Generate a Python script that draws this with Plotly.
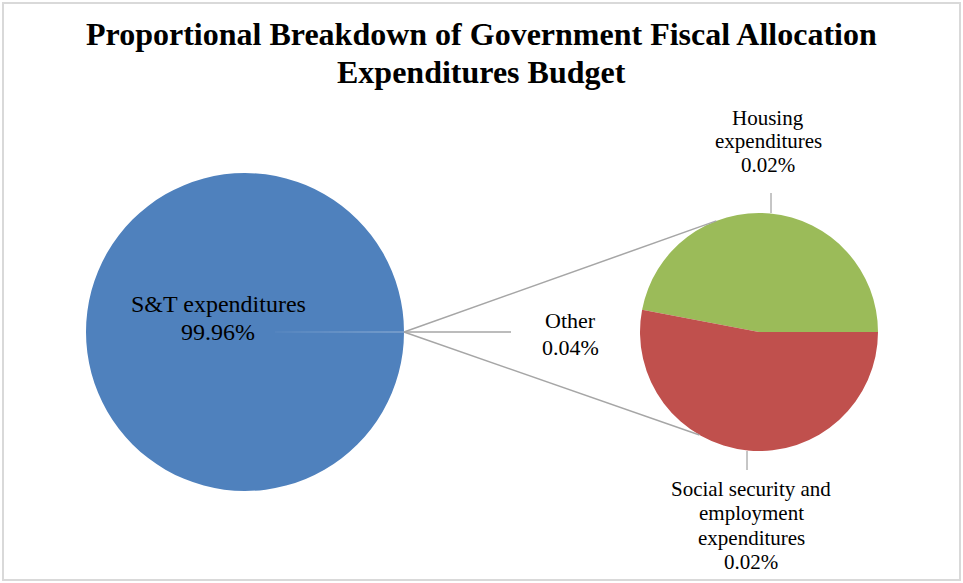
import math
import plotly.graph_objects as go

# ---------------- data ----------------
main_labels = ["Other", "S&T expenditures"]
main_values = [0.04, 99.96]          # percent of total budget
sub_labels = ["Housing expenditures", "Social security and employment expenditures"]
sub_values = [0.0188, 0.0212]        # split of "Other" (percent of total)
title_lines = ["Proportional Breakdown of Government Fiscal Allocation", "Expenditures Budget"]

main_colors = ["#8EA9CF", "#4F81BD"]
sub_colors = ["#9BBB59", "#C0504D"]

# ---------------- layout geometry (pixels) ----------------
W, H = 963, 583
C1, R1 = (245, 332), 159     # big pie centre / radius
C2, R2 = (759, 332), 119     # small pie centre / radius


def px(x):
    return x / W


def py(y):
    return 1 - y / H


def dom(c, r):
    return dict(x=[px(c[0] - r), px(c[0] + r)], y=[py(c[1] + r), py(c[1] - r)])


other_deg = 360 * main_values[0] / sum(main_values)
housing_deg = 360 * sub_values[0] / sum(sub_values)

fig = go.Figure()
fig.add_trace(go.Pie(
    labels=main_labels, values=main_values, sort=False,
    direction="clockwise", rotation=90 - other_deg / 2,
    marker=dict(colors=main_colors, line=dict(width=0)),
    textinfo="none", hoverinfo="label+percent", showlegend=False,
    domain=dom(C1, R1),
))
fig.add_trace(go.Pie(
    labels=sub_labels, values=sub_values, sort=False,
    direction="counterclockwise", rotation=90 - housing_deg,
    marker=dict(colors=sub_colors, line=dict(width=0)),
    textinfo="none", hoverinfo="label+value", showlegend=False,
    domain=dom(C2, R2),
))

shapes = []
# frame
shapes.append(dict(type="rect", xref="paper", yref="paper", x0=px(3), x1=px(960), y0=py(580), y1=py(3),
                   line=dict(color="#D9D9D9", width=2)))
# connector lines from "Other" slice to the secondary pie
ox, oy = C1[0] + R1, C1[1]
for ang in (111, 240):
    a = math.radians(ang)
    ex, ey = C2[0] + R2 * math.cos(a), C2[1] - R2 * math.sin(a)
    shapes.append(dict(type="line", xref="paper", yref="paper", x0=px(ox), y0=py(oy), x1=px(ex), y1=py(ey),
                       line=dict(color="#A6A6A6", width=1.5)))
# leader to "Other" label
shapes.append(dict(type="line", xref="paper", yref="paper", x0=px(ox), y0=py(oy), x1=px(ox + 107), y1=py(oy),
                   line=dict(color="#A6A6A6", width=1.5)))
# leaders for secondary pie labels
shapes.append(dict(type="line", xref="paper", yref="paper", x0=px(771), y0=py(C2[1] - R2), x1=px(771), y1=py(193),
                   line=dict(color="#8C8C8C", width=1)))
shapes.append(dict(type="line", xref="paper", yref="paper", x0=px(747), y0=py(C2[1] + R2), x1=px(747), y1=py(470),
                   line=dict(color="#8C8C8C", width=1)))

annotations = []
FONT = "Liberation Serif, Times New Roman, serif"


def add_lines(lines, cx, y0, step, size, bold=False):
    for i, t in enumerate(lines):
        annotations.append(dict(
            text=f"<b>{t}</b>" if bold else t, x=px(cx), y=py(y0 + i * step),
            xref="paper", yref="paper", xanchor="center", yanchor="middle", showarrow=False,
            font=dict(family=FONT, size=size, color="#000000"),
        ))


def pct(v):
    return f"{v:.2f}%"


add_lines(title_lines, 481, 34, 38, 32, bold=True)
add_lines([main_labels[1], pct(main_values[1])], 218, 304, 28, 24)
add_lines([main_labels[0], pct(main_values[0])], 570, 320, 27, 22)
add_lines(["Housing", "expenditures", pct(sub_values[0])], 768, 118, 23.5, 21)
add_lines(["Social security and", "employment", "expenditures", pct(sub_values[1])], 751, 489, 24.4, 21)

fig.update_layout(
    width=W, height=H, autosize=False,
    margin=dict(l=0, r=0, t=0, b=0),
    paper_bgcolor="white", plot_bgcolor="white",
    shapes=shapes, annotations=annotations,
)
fig.write_html("out.html")
